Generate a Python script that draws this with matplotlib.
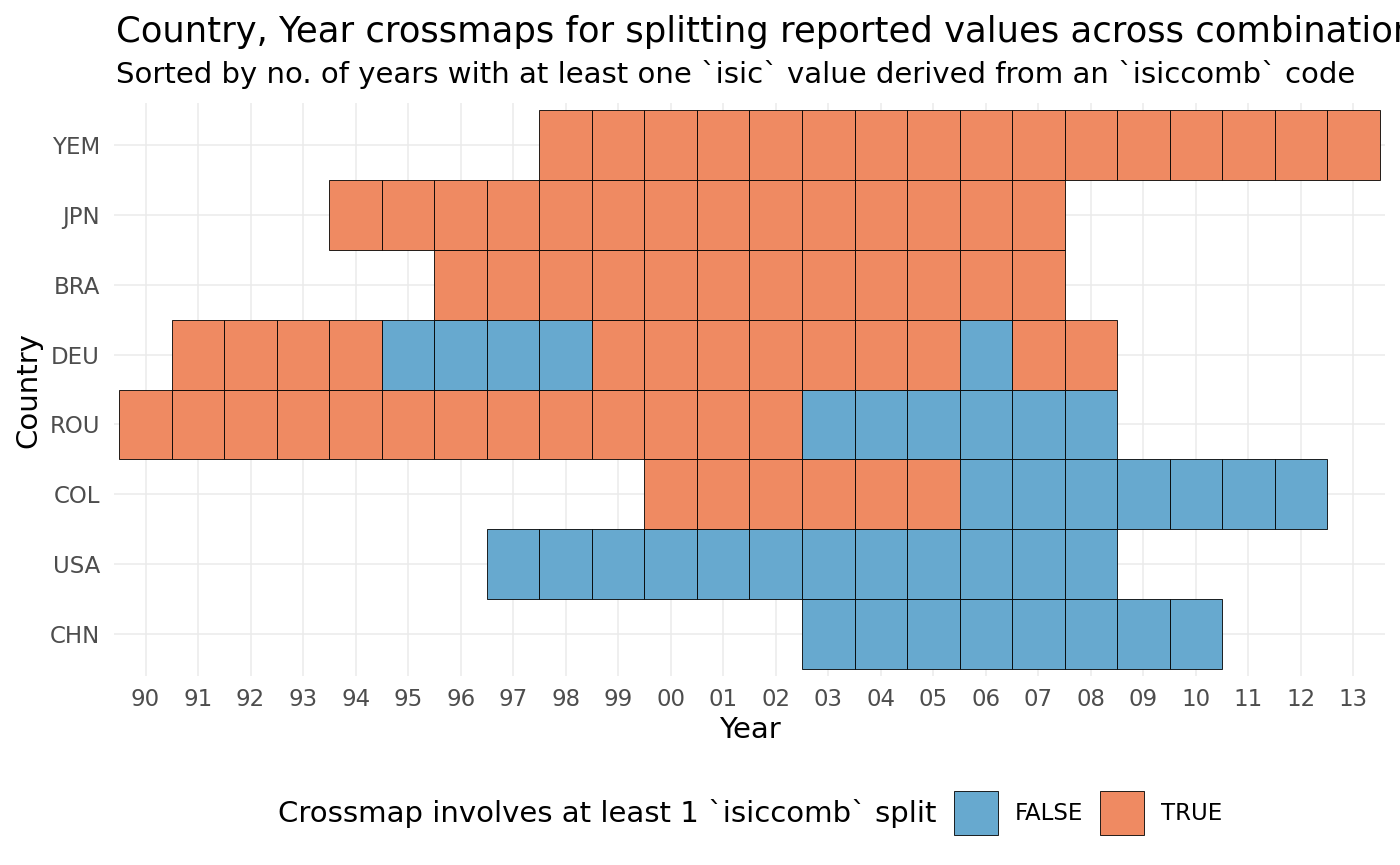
import matplotlib.pyplot as plt
from matplotlib.patches import Rectangle

# rows from bottom to top
countries = ["CHN", "USA", "COL", "ROU", "DEU", "BRA", "JPN", "YEM"]
first_year = [2003, 1997, 2000, 1990, 1991, 1996, 1994, 1998]
# 1 = crossmap involves an isiccomb split (TRUE), 0 = FALSE
splits = [
    [0, 0, 0, 0, 0, 0, 0, 0],
    [0, 0, 0, 0, 0, 0, 0, 0, 0, 0, 0, 0],
    [1, 1, 1, 1, 1, 1, 0, 0, 0, 0, 0, 0, 0],
    [1, 1, 1, 1, 1, 1, 1, 1, 1, 1, 1, 1, 1, 0, 0, 0, 0, 0, 0],
    [1, 1, 1, 1, 0, 0, 0, 0, 1, 1, 1, 1, 1, 1, 1, 0, 1, 1],
    [1, 1, 1, 1, 1, 1, 1, 1, 1, 1, 1, 1],
    [1, 1, 1, 1, 1, 1, 1, 1, 1, 1, 1, 1, 1, 1],
    [1, 1, 1, 1, 1, 1, 1, 1, 1, 1, 1, 1, 1, 1, 1, 1],
]
years = list(range(1990, 2014))
year_labels = [f"{y % 100:02d}" for y in years]

col_false = "#67A9CF"
col_true = "#EF8A62"

fig = plt.figure(figsize=(14, 8.65), dpi=100)
ax = fig.add_axes([114 / 1400, 1 - 676 / 865, (1385 - 114) / 1400, (676 - 103) / 865])

for row, (start, flags) in enumerate(zip(first_year, splits)):
    for k, f in enumerate(flags):
        xi = years.index(start + k)
        ax.add_patch(Rectangle((xi - 0.5, row - 0.5), 1, 1,
                               facecolor=col_true if f else col_false,
                               edgecolor="black", linewidth=0.6, zorder=2))

ax.set_xlim(-0.6, len(years) - 0.4)
ax.set_ylim(-0.6, len(countries) - 0.4)
ax.set_xticks(range(len(years)))
ax.set_xticklabels(year_labels)
ax.set_yticks(range(len(countries)))
ax.set_yticklabels(countries)
ax.tick_params(length=0, labelsize=16.5, labelcolor="#4D4D4D")
ax.tick_params(axis="x", pad=9)
ax.tick_params(axis="y", pad=10)
ax.grid(True, color="#EBEBEB", linewidth=1.1, zorder=0)
ax.set_axisbelow(True)
for s in ax.spines.values():
    s.set_visible(False)
ax.set_xlabel("Year", fontsize=21, labelpad=3)
ax.set_ylabel("Country", fontsize=21, labelpad=5)

# title runs past the right edge, as in the original
fig.text(116 / 1400, 1 - 42 / 865,
         "Country, Year crossmaps for splitting reported values across combinations",
         fontsize=25.5, ha="left", va="baseline")
fig.text(116 / 1400, 1 - 83 / 865,
         "Sorted by no. of years with at least one `isic` value derived from an `isiccomb` code",
         fontsize=21, ha="left", va="baseline")

# legend at the bottom
ly = 1 - 813 / 865
fig.text(278 / 1400, ly, "Crossmap involves at least 1 `isiccomb` split",
         fontsize=21, ha="left", va="center")
key_w, key_h = 44 / 1400, 44 / 865
for x0, col, lab in [(954, col_false, "FALSE"), (1100, col_true, "TRUE")]:
    fig.add_artist(Rectangle((x0 / 1400, ly - key_h / 2), key_w, key_h,
                             facecolor=col, edgecolor="black", linewidth=0.6,
                             transform=fig.transFigure))
    fig.text((x0 + 61) / 1400, ly, lab, fontsize=16.5, ha="left", va="center")

fig.savefig("out.png", dpi=100)
